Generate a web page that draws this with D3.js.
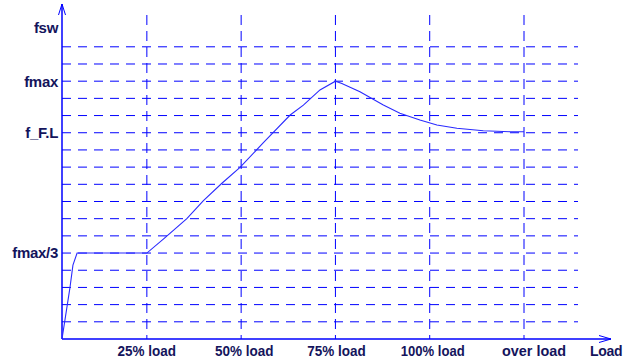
<!DOCTYPE html>
<html>
<head>
<meta charset="utf-8">
<script src="https://cdn.jsdelivr.net/npm/d3@7"></script>
<style>
  html, body { margin: 0; padding: 0; background: #fff; }
  svg { display: block; }
  text { font-family: Arial, "Liberation Sans", sans-serif; font-weight: bold; fill: #14145c; }
</style>
</head>
<body>
<div id="chart"></div>
<script>
// load (%) vs switching frequency (grid units)
const loadPct = [2.5, 4.6, 5.4, 6.5, 25, 29.6, 35.6, 40.0, 44.9, 49.7, 55.9, 63.0, 66.5, 70.9, 75,
                 76.7, 81.5, 87.7, 92.1, 97.4, 101.9, 107.2, 114.2, 121.3, 125];
const fsw = [0, 2.97, 4.3, 5, 5, 5.85, 7.0, 8.05, 9.06, 9.99, 11.42, 13.03, 13.61, 14.49, 15,
             14.87, 14.39, 13.61, 13.13, 12.74, 12.45, 12.26, 12.12, 12.06, 12.06];

const xTickValues = [25, 50, 75, 100, 125];
const xTickLabels = ["25% load", "50% load", "75% load", "100% load", "over load"];
const yGridValues = d3.range(1, 18);
const yLabelValues = [18.1, 15, 12, 5];
const yLabelTexts = ["fsw", "fmax", "f_F.L", "fmax/3"];

const width = 625, height = 363;
const blue = "#0000ff";

const svg = d3.select("#chart").append("svg")
    .attr("width", width)
    .attr("height", height);

// scales
const x = d3.scaleLinear().domain([2.5, 125]).range([62, 524]);
const y = d3.scaleLinear().domain([0, 17]).range([339, 46.8]);

// horizontal dashed grid
svg.append("g")
    .selectAll("line")
    .data(yGridValues)
    .join("line")
    .attr("x1", x(2.5))
    .attr("x2", 578)
    .attr("y1", d => y(d))
    .attr("y2", d => y(d))
    .attr("stroke", blue)
    .attr("stroke-width", 1)
    .attr("stroke-dasharray", "9,7");

// vertical dashed grid
svg.append("g")
    .selectAll("line")
    .data(xTickValues)
    .join("line")
    .attr("x1", d => x(d))
    .attr("x2", d => x(d))
    .attr("y1", 15)
    .attr("y2", y(0))
    .attr("stroke", blue)
    .attr("stroke-width", 1)
    .attr("stroke-dasharray", "10,6");

// axes with open arrows
const axisG = svg.append("g")
    .attr("stroke", blue)
    .attr("stroke-width", 1.5)
    .attr("fill", "none");

axisG.append("line")
    .attr("x1", x(2.5)).attr("y1", y(0))
    .attr("x2", x(2.5)).attr("y2", 4);
axisG.append("path")
    .attr("stroke-width", 1)
    .attr("d", `M${x(2.5) - 3.5},15 L${x(2.5)},4 L${x(2.5) + 3.5},15`);

axisG.append("line")
    .attr("x1", x(2.5)).attr("y1", y(0))
    .attr("x2", 611).attr("y2", y(0));
axisG.append("path")
    .attr("stroke-width", 1)
    .attr("d", `M599,${y(0) - 3.5} L611,${y(0)} L599,${y(0) + 3.5}`);

// curve
const line = d3.line()
    .x((d, i) => x(loadPct[i]))
    .y(d => y(d));

svg.append("path")
    .datum(fsw)
    .attr("d", line)
    .attr("fill", "none")
    .attr("stroke", "#2a2aff")
    .attr("stroke-width", 1.1);

// y labels
svg.append("g")
    .selectAll("text")
    .data(yLabelTexts)
    .join("text")
    .attr("x", 58)
    .attr("y", (d, i) => y(yLabelValues[i]))
    .attr("dy", "0.36em")
    .attr("text-anchor", "end")
    .style("font-size", "15px")
    .style("letter-spacing", "-0.3px")
    .text(d => d);

// x labels
const labelDx = [0, 3, 1, 3, 10];
svg.append("g")
    .selectAll("text")
    .data(xTickLabels)
    .join("text")
    .attr("x", (d, i) => x(xTickValues[i]) + labelDx[i])
    .attr("y", 355.5)
    .attr("text-anchor", "middle")
    .attr("textLength", (d, i) => i >= 3 ? 64 : 58.5)
    .attr("lengthAdjust", "spacingAndGlyphs")
    .style("font-size", "15px")
    .text(d => d);

svg.append("text")
    .attr("x", 590)
    .attr("y", 356)
    .style("font-size", "14px")
    .style("letter-spacing", "-0.3px")
    .text("Load");
</script>
</body>
</html>
